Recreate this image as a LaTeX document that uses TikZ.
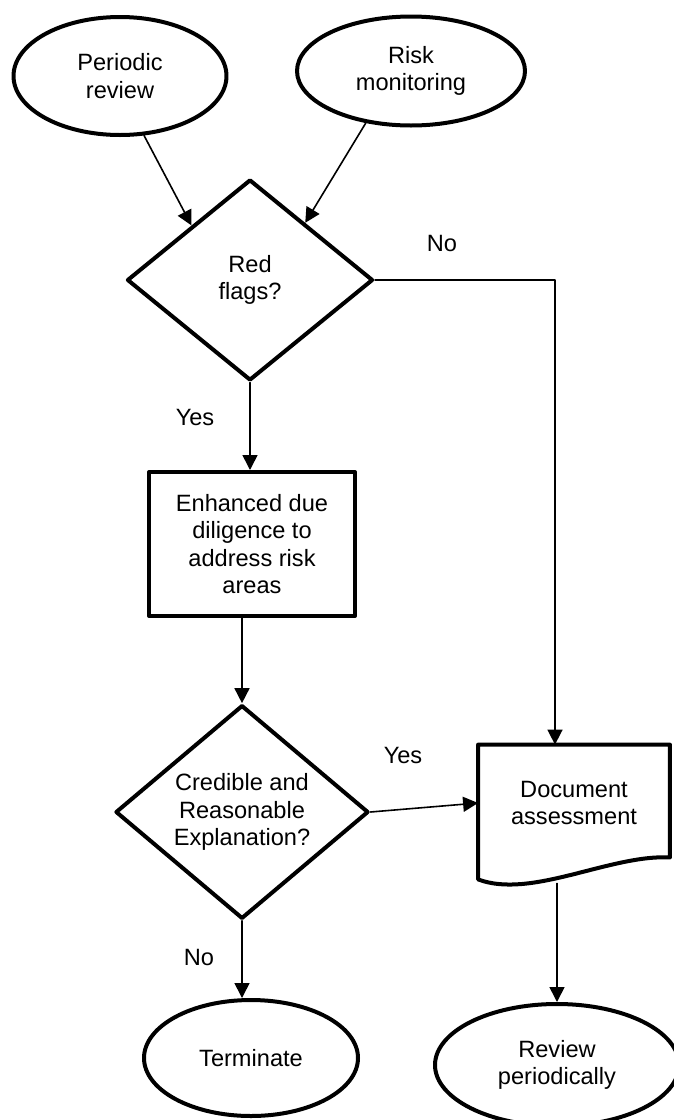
\documentclass[tikz,border=0pt]{standalone}
\usepackage{fontspec}
\setmainfont{Liberation Sans}
\usetikzlibrary{shapes.geometric,arrows.meta,calc}

\begin{document}
\begin{tikzpicture}[x = 0.5pt,y = -0.5pt,line join = round,line cap = round,>={Triangle[length = 7.5pt,width = 7.5pt]},
	every node/.style = {font = \fontsize{11.8pt}{13.8pt}\selectfont,align = center,inner sep = 0pt},
	term/.style = {ellipse,draw,line width = 2pt},
	decide/.style = {diamond,draw,line width = 2pt},
	process/.style = {rectangle,draw,line width = 2pt},
	flow/.style = {->,line width = 0.8pt}]
	\useasboundingbox (0,0) rectangle (674,1120);
	%Start nodes
	\node[term,minimum width = 106.5pt,minimum height = 59pt] (periodic) at (120,76) {Periodic\\review};
	\node[term,minimum width = 114pt,minimum height = 54.5pt] (risk) at (411,71) {Risk\\monitoring};
	%Decisions and steps
	\node[decide,minimum width = 123pt,minimum height = 100.5pt] (red) at (250,280) {Red\\flags?};
	\node[process,minimum width = 103pt,minimum height = 72pt] (edd) at (252,544) {Enhanced due\\diligence to\\address risk\\areas};
	\node[decide,minimum width = 126.5pt,minimum height = 103pt] (credible) at (242,812) {Credible and\\Reasonable\\Explanation?};
	\node[minimum width = 95.5pt,minimum height = 58pt] (doc) at (574,803) {Document\\assessment};
	\draw[line width = 2pt] ($(doc.south west)+(0,18)$) coordinate (docbl) -- (doc.north west) -- (doc.north east) -- ($(doc.south east)+(0,-4)$)
		.. controls ($(doc.south east)+(-60,-7)$) and ($(doc.south west)+(53,38)$) .. (docbl) -- cycle;
	\coordinate (docin) at ($(doc.north)+(-19,0)$);
	\coordinate (docout) at ($(doc.south)+(-17,22)$);
	%End nodes
	\node[term,minimum width = 107pt,minimum height = 58pt] (terminate) at (251,1058) {Terminate};
	\node[term,minimum width = 122pt,minimum height = 61pt] (review) at (557,1065) {Review\\periodically};
	%Connectors
	\draw[flow] (periodic.292) -- (red.137);
	\draw[flow] (risk.229) -- (red.46);
	\draw[flow] (red.east) -| (docin);
	\draw[flow] (red.south) -- (red.south |- edd.north);
	\draw[flow] (credible.north |- edd.south) -- (credible.north);
	\draw[flow] (credible.east) -- (doc.west);
	\draw[flow] (credible.south) -- (credible.south |- terminate.north);
	\draw[flow] (docout) -- (docout |- review.north);
	%Labels
	\node (no1) at (442,243) {No};
	\node (yes1) at (195,417) {Yes};
	\node (yes2) at (403,755) {Yes};
	\node (no2) at (199,957) {No};
\end{tikzpicture}
\end{document}
